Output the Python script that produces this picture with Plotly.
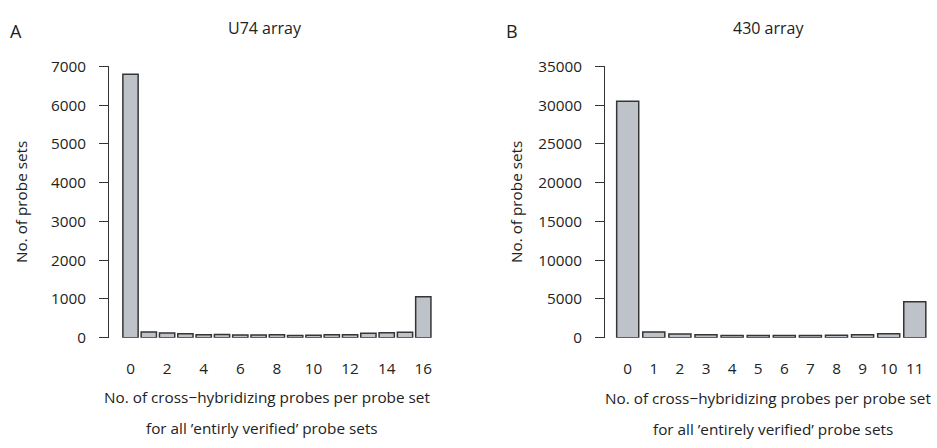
import plotly.graph_objects as go

# ---- data ----
u74_categories = list(range(17))
u74_counts = [6800, 150, 120, 100, 75, 85, 70, 70, 75, 60, 65, 80, 80, 115, 130, 140, 1060]
u74_ticks = [0, 2, 4, 6, 8, 10, 12, 14, 16]
u74_yticks = [0, 1000, 2000, 3000, 4000, 5000, 6000, 7000]

a430_categories = list(range(12))
a430_counts = [30500, 750, 480, 380, 280, 280, 280, 290, 320, 380, 520, 4650]
a430_ticks = list(range(12))
a430_yticks = [0, 5000, 10000, 15000, 20000, 25000, 30000, 35000]

W, H = 937, 448
FONT = "Open Sans"
FS = 15.3
BAR_FILL = "#bec2c9"
BAR_LINE = "#353535"
AXIS = "#333333"
TXT = "#222222"

def px_x(p):
    return p / W

def px_y(p):
    return 1 - p / H

fig = go.Figure()
fig.add_trace(go.Bar(x=u74_categories, y=u74_counts, width=0.835,
                     marker=dict(color=BAR_FILL, line=dict(color=BAR_LINE, width=1.5)),
                     xaxis="x", yaxis="y"))
fig.add_trace(go.Bar(x=a430_categories, y=a430_counts, width=0.845,
                     marker=dict(color=BAR_FILL, line=dict(color=BAR_LINE, width=1.5)),
                     xaxis="x2", yaxis="y2"))

ydom = [px_y(342), px_y(58)]
a_left, a_right, a_c0, a_step = 109, 440, 130.5, 18.3
b_left, b_right, b_c0, b_step = 605, 935, 627.7, 26.1

xcommon = dict(showline=False, showgrid=False, zeroline=False, ticks="",
               tickfont=dict(family=FONT, size=FS, color=TXT), ticklabelstandoff=20)
ycommon = dict(showline=True, linecolor=AXIS, linewidth=1, ticks="outside", ticklen=9,
               tickcolor=AXIS, tickwidth=1, showgrid=False, zeroline=False,
               tickfont=dict(family=FONT, size=FS, color=TXT), ticklabelstandoff=10)

fig.update_layout(
    width=W, height=H, margin=dict(l=0, r=0, t=0, b=0),
    paper_bgcolor="white", plot_bgcolor="white", showlegend=False,
    xaxis=dict(domain=[px_x(a_left), px_x(a_right)],
               range=[-(a_c0 - a_left) / a_step, (a_right - a_c0) / a_step],
               tickvals=u74_ticks, ticktext=[str(t) for t in u74_ticks], anchor="y", **xcommon),
    yaxis=dict(domain=ydom, range=[0, 7000], tickvals=u74_yticks,
               ticktext=[str(t) for t in u74_yticks], anchor="x", **ycommon),
    xaxis2=dict(domain=[px_x(b_left), px_x(b_right)],
                range=[-(b_c0 - b_left) / b_step, (b_right - b_c0) / b_step],
                tickvals=a430_ticks, ticktext=[str(t) for t in a430_ticks], anchor="y2", **xcommon),
    yaxis2=dict(domain=ydom, range=[0, 35000], tickvals=a430_yticks,
                ticktext=[str(t) for t in a430_yticks], anchor="x2", **ycommon),
)

def ann(text, x, y, size=FS, angle=0):
    fig.add_annotation(text=text, x=px_x(x), y=px_y(y), xref="paper", yref="paper",
                       showarrow=False, textangle=angle, xanchor="center", yanchor="middle",
                       font=dict(family=FONT, size=size, color=TXT))

ann("A", 16, 21, size=18)
ann("B", 512, 21, size=18)
ann("U74 array", 265, 18, size=16)
ann("430 array", 768, 18, size=16)
ann("No. of probe sets", 21, 200, angle=-90)
ann("No. of probe sets", 516, 200, angle=-90)
ann("No. of cross\u2212hybridizing probes per probe set", 267, 404)
ann("for all \u2019entirly verified\u2019 probe sets", 262, 437)
ann("No. of cross\u2212hybridizing probes per probe set", 768, 405)
ann("for all \u2019entirely verified\u2019 probe sets", 773, 438)

fig.write_html("out.html")
